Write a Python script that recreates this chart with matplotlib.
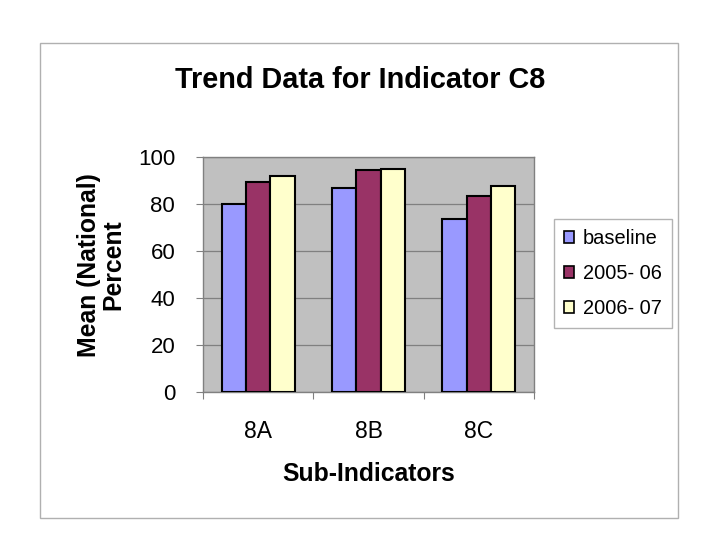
import matplotlib
matplotlib.use("Agg")
import matplotlib.pyplot as plt
import numpy as np
from matplotlib.patches import Rectangle

plt.rcParams['font.family'] = ['Liberation Sans', 'DejaVu Sans']

categories = ["8A", "8B", "8C"]
series_names = ["baseline", "2005- 06", "2006- 07"]
baseline = [80.0, 86.8, 73.6]
y2005_06 = [89.2, 94.3, 83.5]
y2006_07 = [91.8, 95.0, 87.8]
colors = ["#9999FF", "#993366", "#FFFFCC"]
yticks = [0, 20, 40, 60, 80, 100]

W, H = 720, 540
fig = plt.figure(figsize=(7.2, 5.4), dpi=100)
fig.patch.set_facecolor("white")

# outer frame
fig.patches.append(Rectangle((40 / W, 1 - 518 / H), (678 - 40) / W, (518 - 43) / H,
                             transform=fig.transFigure, fill=False,
                             edgecolor="#B0B0B0", lw=1.0, zorder=0))

ax = fig.add_axes([203 / W, 1 - 392 / H, (534 - 203) / W, (392 - 157) / H])
ax.set_facecolor("#C0C0C0")

x = np.arange(len(categories))
bw = 0.22
series = [baseline, y2005_06, y2006_07]
for i, (vals, c, name) in enumerate(zip(series, colors, series_names)):
    ax.bar(x + (i - 1) * bw, vals, bw, color=c, edgecolor="black", lw=1.5,
           label=name, zorder=3)

ax.set_xlim(-0.5, len(categories) - 0.5)
ax.set_ylim(0, 100)
ax.set_yticks(yticks)
ax.set_yticklabels([str(v) for v in yticks], fontsize=16)
ax.yaxis.grid(True, color="#808080", lw=0.9, zorder=1)
ax.set_axisbelow(True)

# x ticks at category boundaries, labels at centers
ax.set_xticks(np.arange(len(categories) + 1) - 0.5)
ax.set_xticklabels([])
ax.set_xticks(x, minor=True)
ax.set_xticklabels(categories, minor=True, fontsize=16.5)
ax.tick_params(axis='x', which='major', length=5, color="#808080", direction='out')
ax.tick_params(axis='x', which='minor', length=0, pad=20)
ax.tick_params(axis='y', length=5, color="#808080", direction='out', pad=15)

for s in ax.spines.values():
    s.set_color("#808080")
    s.set_linewidth(1.0)

fig.text(360 / W, 1 - 80 / H, "Trend Data for Indicator C8", fontsize=20.8,
         fontweight="bold", ha="center", va="center")
fig.text(101 / W, 1 - 265 / H, "Mean (National)\nPercent", fontsize=17.8,
         fontweight="bold", ha="center", va="center", rotation=90,
         multialignment="center", linespacing=1.05)
fig.text(369 / W, 1 - 474 / H, "Sub-Indicators", fontsize=17.8,
         fontweight="bold", ha="center", va="center")

leg = fig.legend(loc="upper left", bbox_to_anchor=(554 / W, 1 - 219 / H),
                 fontsize=14.4, frameon=True, fancybox=False, borderaxespad=0,
                 handlelength=0.5, handleheight=0.55, handletextpad=0.45,
                 labelspacing=0.8, borderpad=0.5)
leg.get_frame().set_edgecolor("#A0A0A0")
leg.get_frame().set_linewidth(1.0)
for p in leg.get_patches():
    p.set_linewidth(1.2)

fig.savefig("out.png", dpi=100, facecolor="white")
